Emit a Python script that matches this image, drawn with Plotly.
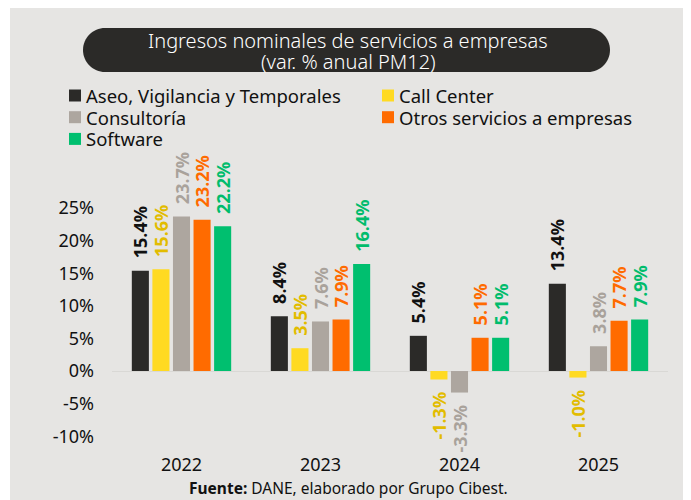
import plotly.graph_objects as go

years = ["2022", "2023", "2024", "2025"]
series_names = ["Aseo, Vigilancia y Temporales", "Call Center", "Consultoría",
                "Otros servicios a empresas", "Software"]
aseo = [15.4, 8.4, 5.4, 13.4]
call_center = [15.6, 3.5, -1.3, -1.0]
consultoria = [23.7, 7.6, -3.3, 3.8]
otros = [23.2, 7.9, 5.1, 7.7]
software = [22.2, 16.4, 5.1, 7.9]
values = [aseo, call_center, consultoria, otros, software]
y_ticks = [-10, -5, 0, 5, 10, 15, 20, 25]
y_tick_labels = ["-10%", "-5%", "0%", "5%", "10%", "15%", "20%", "25%"]

bar_colors = ["#2B2A28", "#FFDA22", "#ADA69F", "#FF6B00", "#00BF6F"]
text_colors = ["#111111", "#E2BC00", "#A9A29B", "#FF6B00", "#00BC6C"]

# page offset (html body margin) -> work in window pixels, convert to figure pixels
OFF = 8
WIN_W, WIN_H = 691, 500
W, H = WIN_W - OFF, WIN_H - OFF
L, R, T, B = 112, 668, 195, 452          # plot area in window pixels
BG = "#E6E5E3"
FONT = "Noto Sans"

def px(x):
    return (x - L) / (R - L)

def py(y):
    return (B - y) / (B - T)

def label(v):
    s = f"{v:.1f}%"
    return "\u00a0\u00a0" + s if v >= 0 else s + "\u00a0\u00a0"

fig = go.Figure()
for name, vals, c, tc in zip(series_names, values, bar_colors, text_colors):
    fig.add_trace(go.Bar(
        x=years, y=vals, name=name, showlegend=False,
        marker=dict(color=c, line=dict(width=0)),
        text=[label(v) for v in vals], texttemplate="%{text}",
        textposition="outside", textangle=-90,
        textfont=dict(family=FONT, size=18, color=tc, weight="bold"),
        cliponaxis=False, constraintext="none",
    ))

# pill-shaped title background
x0, x1, yt, yb, r = 83, 610, 28, 72, 22
k = 0.5523 * r
pts = [
    ("M", [(x0 + r, yt)]),
    ("L", [(x1 - r, yt)]),
    ("C", [(x1 - r + k, yt), (x1, yt + r - k), (x1, yt + r)]),
    ("C", [(x1, yt + r + k), (x1 - r + k, yb), (x1 - r, yb)]),
    ("L", [(x0 + r, yb)]),
    ("C", [(x0 + r - k, yb), (x0, yb - r + k), (x0, yb - r)]),
    ("C", [(x0, yb - r - k), (x0 + r - k, yt), (x0 + r, yt)]),
]
path = ""
for cmd, ps in pts:
    path += cmd + " ".join(f"{px(a):.5f},{py(b):.5f}" for a, b in ps)
path += "Z"

shapes = [
    dict(type="rect", xref="paper", yref="paper", x0=px(10), x1=px(WIN_W + 5),
         y0=py(WIN_H + 5), y1=py(0), fillcolor=BG, line=dict(width=0), layer="below"),
    dict(type="path", xref="paper", yref="paper", path=path,
         fillcolor="#2B2A28", line=dict(width=0), layer="above"),
]

annotations = [
    dict(xref="paper", yref="paper", x=px(348), y=py(40.5), showarrow=False,
         text="Ingresos nominales de servicios a empresas",
         font=dict(family=FONT, size=20, color="white", weight=300),
         xanchor="center", yanchor="middle"),
    dict(xref="paper", yref="paper", x=px(348), y=py(61.5), showarrow=False,
         text="(var. % anual PM12)",
         font=dict(family=FONT, size=20, color="white", weight=300),
         xanchor="center", yanchor="middle"),
    dict(xref="paper", yref="paper", x=px(348), y=py(488), showarrow=False,
         text="<b>Fuente:</b> DANE, elaborado por Grupo Cibest.",
         font=dict(family=FONT, size=15.5, color="#111111"),
         xanchor="center", yanchor="middle"),
]

# manual legend (two columns, tight spacing as in the reference)
legend_cols = [0, 1, 0, 1, 0]
legend_rows = [0, 0, 1, 1, 2]
for name, c, col, row in zip(series_names, bar_colors, legend_cols, legend_rows):
    cx = 69 + 313 * col
    cy = 95.5 + 21.7 * row
    shapes.append(dict(type="rect", xref="paper", yref="paper",
                       x0=px(cx), x1=px(cx + 12), y0=py(cy + 6), y1=py(cy - 6),
                       fillcolor=c, line=dict(width=0), layer="above"))
    annotations.append(dict(xref="paper", yref="paper", x=px(cx + 14.5), y=py(cy),
                            text=name, showarrow=False, xanchor="left", yanchor="middle",
                            font=dict(family=FONT, size=18.5, color="#111111")))

fig.update_layout(
    width=W, height=H,
    margin=dict(l=L - OFF, r=WIN_W - R, t=T - OFF, b=WIN_H - B, pad=0),
    paper_bgcolor="white", plot_bgcolor="rgba(0,0,0,0)",
    barmode="group", bargap=0.26, bargroupgap=0.17,
    shapes=shapes, annotations=annotations,
    showlegend=False,
    xaxis=dict(showgrid=False, showline=False, ticks="",
               tickfont=dict(family=FONT, size=18, color="#111111"),
               ticklabelstandoff=0),
    yaxis=dict(range=[-12.42, 27.0], tickmode="array", tickvals=y_ticks,
               ticktext=y_tick_labels,
               showgrid=False, showline=False, ticks="",
               zeroline=True, zerolinecolor="#D9D8D5", zerolinewidth=1,
               tickfont=dict(family=FONT, size=18, color="#111111"),
               ticklabelstandoff=17),
)

fig.write_html("out.html")
